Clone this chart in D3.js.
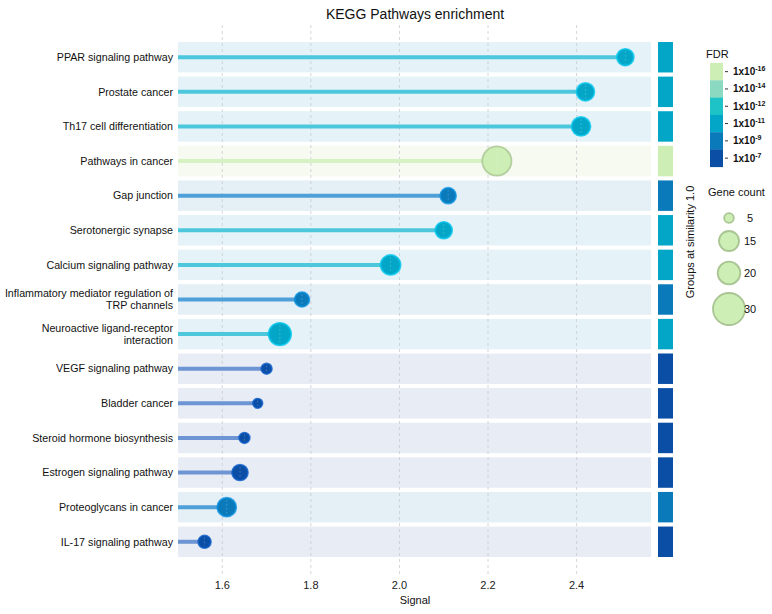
<!DOCTYPE html>
<html>
<head>
<meta charset="utf-8">
<script src="https://cdn.jsdelivr.net/npm/d3@7"></script>
<style>
  body { margin: 0; background: #fff; }
  svg { font-family: "Liberation Sans", Arial, sans-serif; }
  .title { font-size: 14px; fill: #111; }
  .rowLabel { font-size: 10.7px; fill: #111; }
  .tickLabel { font-size: 11px; fill: #222; }
  .axisTitle { font-size: 11px; fill: #111; }
  .legTitle { font-size: 11px; fill: #111; }
  .fdrLabel { font-size: 10px; font-weight: bold; fill: #111; }
  .cntLabel { font-size: 11px; fill: #111; }
</style>
</head>
<body>
<div id="chart"></div>
<script>
// pathways, top to bottom
const pathways = [
  "PPAR signaling pathway", "Prostate cancer", "Th17 cell differentiation",
  "Pathways in cancer", "Gap junction", "Serotonergic synapse",
  "Calcium signaling pathway", "Inflammatory mediator regulation of\nTRP channels",
  "Neuroactive ligand-receptor\ninteraction", "VEGF signaling pathway",
  "Bladder cancer", "Steroid hormone biosynthesis", "Estrogen signaling pathway",
  "Proteoglycans in cancer", "IL-17 signaling pathway"
];
const signal = [2.51, 2.42, 2.41, 2.22, 2.11, 2.10, 1.98, 1.78, 1.73, 1.70, 1.68, 1.65, 1.64, 1.61, 1.56];
const geneCount = [12, 13, 14, 27, 11, 12, 15, 10, 20, 6, 5, 6, 11, 14, 8];
// FDR exponent (1x10^n)
const fdrExp = [-11, -11, -11, -16, -9, -11, -11, -9, -11, -7, -7, -7, -7, -9, -7];
const groupExp = [-11, -11, -11, -16, -9, -11, -11, -9, -11, -7, -7, -7, -7, -9, -7];

const fdrTicks = [-16, -14, -12, -11, -9, -7];
const xTicks = [1.6, 1.8, 2.0, 2.2, 2.4];
const legendCounts = [5, 15, 20, 30];

const fdrColours = ["#cdeeb4", "#8bd9c0", "#1ec3c7", "#03a6c6", "#0a7abb", "#0b4ea6"];
const lineColours = ["#d6f1c2", "#9fe2d2", "#5fd3dc", "#4dc7dc", "#4f9fd8", "#6e95d3"];
const bandColours = ["#f6faf1", "#eef8f5", "#e6f4f7", "#e5f3f8", "#e5eff6", "#e8ecf5"];

const W = 772, H = 614;
const svg = d3.select("#chart").append("svg").attr("width", W).attr("height", H);

const data = pathways.map((p, i) => ({
  name: p, signal: signal[i], count: geneCount[i], fdr: fdrExp[i], group: groupExp[i]
}));

const x = d3.scaleLinear().domain([1.5, 2.568]).range([178, 651]);
const y = d3.scaleBand().domain(pathways).range([42, 557]).paddingInner(0.12);
const r = d3.scaleLinear().domain([5, 15, 20, 30]).range([4.8, 10, 11.3, 16]);
const col = d3.scaleOrdinal().domain(fdrTicks).range(fdrColours);
const lineCol = d3.scaleOrdinal().domain(fdrTicks).range(lineColours);
const bandCol = d3.scaleOrdinal().domain(fdrTicks).range(bandColours);

svg.append("text").attr("class", "title")
  .attr("x", 415).attr("y", 19).attr("text-anchor", "middle")
  .text("KEGG Pathways enrichment");

// row bands
svg.selectAll("rect.band").data(data).enter().append("rect")
  .attr("class", "band")
  .attr("x", x.range()[0]).attr("width", x.range()[1] - x.range()[0])
  .attr("y", d => y(d.name)).attr("height", y.bandwidth())
  .style("fill", d => bandCol(d.group));

// grid
svg.selectAll("line.grid").data(xTicks).enter().append("line")
  .attr("class", "grid")
  .attr("x1", d => x(d)).attr("x2", d => x(d))
  .attr("y1", 25).attr("y2", 575)
  .style("stroke", "#c8ccd2").style("stroke-width", 0.8)
  .style("stroke-dasharray", "3,3");

svg.selectAll("text.tickLabel").data(xTicks).enter().append("text")
  .attr("class", "tickLabel")
  .attr("x", d => x(d)).attr("y", 589).attr("text-anchor", "middle")
  .text(d => d3.format(".1f")(d));

svg.append("text").attr("class", "axisTitle")
  .attr("x", 415).attr("y", 604).attr("text-anchor", "middle").text("Signal");

// stems
svg.selectAll("line.stem").data(data).enter().append("line")
  .attr("class", "stem")
  .attr("x1", x.range()[0]).attr("x2", d => x(d.signal))
  .attr("y1", d => y(d.name) + y.bandwidth() / 2)
  .attr("y2", d => y(d.name) + y.bandwidth() / 2)
  .style("stroke", d => lineCol(d.fdr)).style("stroke-width", 4);

// dots
svg.selectAll("circle.dot").data(data).enter().append("circle")
  .attr("class", "dot")
  .attr("cx", d => x(d.signal))
  .attr("cy", d => y(d.name) + y.bandwidth() / 2)
  .attr("r", d => r(d.count))
  .style("fill", d => col(d.fdr))
  .style("stroke", d => d.fdr == -16 ? "#a9c593" : d3.color(col(d.fdr)).brighter(0.5))
  .style("stroke-opacity", 0.8)
  .style("stroke-width", 1.8);

svg.selectAll("line.mid").data(data).enter().append("line")
  .attr("class", "mid")
  .attr("x1", d => x(d.signal)).attr("x2", d => x(d.signal))
  .attr("y1", d => y(d.name) + y.bandwidth() / 2 - r(d.count) + 2)
  .attr("y2", d => y(d.name) + y.bandwidth() / 2 + r(d.count) - 2)
  .style("stroke", "#ffffff").style("stroke-opacity", 0.25)
  .style("stroke-width", 0.8).style("stroke-dasharray", "2,2");

// row labels
const labels = svg.selectAll("text.rowLabel").data(data).enter().append("text")
  .attr("class", "rowLabel")
  .attr("text-anchor", "end")
  .attr("y", d => y(d.name) + y.bandwidth() / 2);
labels.each(function(d) {
  const lines = d.name.split("\n");
  const t = d3.select(this);
  lines.forEach((s, k) => {
    t.append("tspan").attr("x", 173)
      .attr("dy", k == 0 ? (lines.length == 1 ? "0.35em" : "-0.2em") : "1.1em")
      .text(s);
  });
});

// group squares
svg.selectAll("rect.grp").data(data).enter().append("rect")
  .attr("class", "grp")
  .attr("x", 658).attr("width", 15)
  .attr("y", d => y(d.name)).attr("height", y.bandwidth())
  .style("fill", d => col(d.group));

svg.append("text").attr("class", "legTitle")
  .attr("transform", "translate(694,242) rotate(-90)")
  .attr("text-anchor", "middle").text("Groups at similarity 1.0");

// FDR legend
svg.append("text").attr("class", "legTitle").attr("x", 706).attr("y", 58).text("FDR");
const sw = 17.3;
const fdrG = svg.append("g").attr("transform", "translate(710,63)");
fdrG.selectAll("rect").data(fdrTicks).enter().append("rect")
  .attr("x", 0).attr("width", 13)
  .attr("y", (d, i) => i * sw).attr("height", sw + 0.3)
  .style("fill", d => col(d));
fdrG.selectAll("line").data(fdrTicks).enter().append("line")
  .attr("x1", 15).attr("x2", 18)
  .attr("y1", (d, i) => i * sw + sw / 2).attr("y2", (d, i) => i * sw + sw / 2)
  .style("stroke", "#333").style("stroke-width", 1);
const fl = fdrG.selectAll("text").data(fdrTicks).enter().append("text")
  .attr("class", "fdrLabel")
  .attr("x", 23).attr("y", (d, i) => i * sw + sw / 2 + 3.5);
fl.append("tspan").text("1x10");
fl.append("tspan").attr("dy", -4).style("font-size", "7px").text(d => d);

// Gene count legend
svg.append("text").attr("class", "legTitle").attr("x", 708).attr("y", 196).text("Gene count");
const cntY = [218, 241, 273, 309];
svg.selectAll("circle.leg").data(legendCounts).enter().append("circle")
  .attr("class", "leg")
  .attr("cx", 729).attr("cy", (d, i) => cntY[i]).attr("r", d => r(d))
  .style("fill", "#cdeeb4").style("stroke", "#a9c593").style("stroke-width", 1.8);
svg.selectAll("text.cntLabel").data(legendCounts).enter().append("text")
  .attr("class", "cntLabel")
  .attr("x", 750).attr("y", (d, i) => cntY[i] + 4).attr("text-anchor", "middle")
  .text(d => d);
</script>
</body>
</html>
